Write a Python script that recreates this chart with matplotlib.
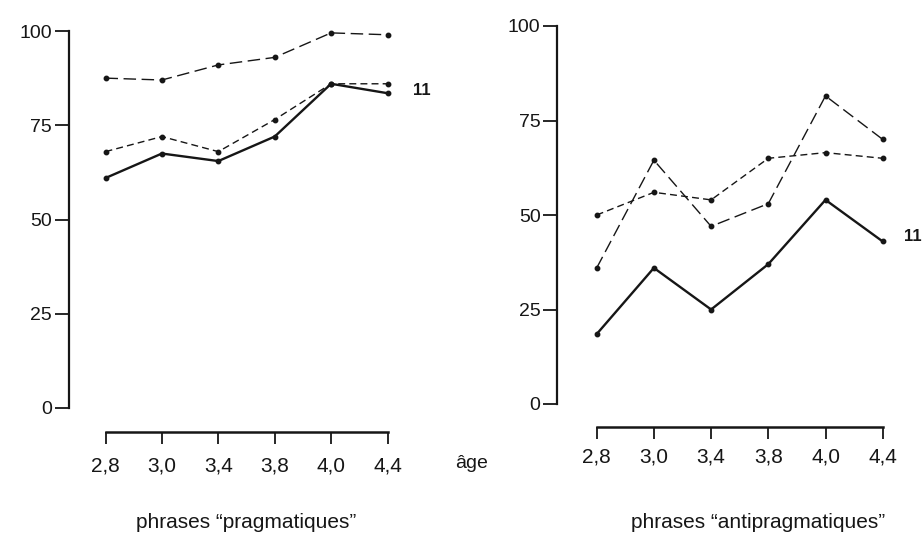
import matplotlib
matplotlib.use("Agg")
import matplotlib.pyplot as plt

ages = ["2,8", "3,0", "3,4", "3,8", "4,0", "4,4"]
yticks = [0, 25, 50, 75, 100]

# phrases "pragmatiques"
prag_long = [87.5, 87, 91, 93, 99.5, 99]
prag_short = [68, 72, 68, 76.5, 86, 86]
prag_solid = [61, 67.5, 65.5, 72, 86, 83.5]

# phrases "antipragmatiques"
anti_long = [36, 64.5, 47, 53, 81.5, 70]
anti_short = [50, 56, 54, 65, 66.5, 65]
anti_solid = [18.5, 36, 25, 37, 54, 43]

W, H = 922, 545
ink = "#161616"
font = ["Liberation Sans", "DejaVu Sans"]

fig = plt.figure(figsize=(W / 100, H / 100), dpi=100)
fig.patch.set_facecolor("white")


def make_axes(x0, dx, y0, dy, xlim, ylim):
    # x0/dx: pixel of first age and pixels per step; y0/dy: pixel of 0 and pixels per unit
    left = x0 + dx * xlim[0]
    right = x0 + dx * xlim[1]
    bottom = y0 - dy * ylim[0]
    top = y0 - dy * ylim[1]
    ax = fig.add_axes([left / W, 1 - bottom / H, (right - left) / W, (bottom - top) / H])
    ax.set_xlim(*xlim)
    ax.set_ylim(*ylim)
    return ax


def draw_panel(ax, long_, short_, solid_, yaxis_x, xaxis_y, lab_xy, xpad):
    x = list(range(len(ages)))
    ax.plot(x, long_, color=ink, lw=1.0, dashes=(9, 4), marker="o", ms=3.2)
    ax.plot(x, short_, color=ink, lw=1.0, dashes=(5, 3), marker="o", ms=3.2)
    ax.plot(x, solid_, color=ink, lw=1.7, marker="o", ms=3.2)
    ax.text(lab_xy[0], lab_xy[1], "11", fontsize=12, fontweight="bold",
            family=font, color=ink, ha="center", va="center")

    ax.patch.set_alpha(0)
    ax.spines["top"].set_visible(False)
    ax.spines["right"].set_visible(False)
    ax.spines["left"].set_position(("data", yaxis_x))
    ax.spines["left"].set_bounds(0, 100)
    ax.spines["left"].set_linewidth(1.6)
    ax.spines["left"].set_color(ink)
    ax.spines["bottom"].set_position(("data", xaxis_y))
    ax.spines["bottom"].set_bounds(0, len(ages) - 1)
    ax.spines["bottom"].set_linewidth(1.8)
    ax.spines["bottom"].set_color(ink)

    ax.set_yticks(yticks)
    ax.set_yticklabels([str(v) for v in yticks], family=font, fontsize=14)
    ax.set_xticks(x)
    ax.set_xticklabels(ages, family=font, fontsize=15)
    ax.tick_params(axis="y", length=10, width=1.3, pad=2, colors=ink)
    ax.tick_params(axis="x", length=8.5, width=1.3, pad=xpad, colors=ink)


ax1 = make_axes(105.5, 56.4, 408, 3.77, (-0.8, 5.3), (-10, 102))
draw_panel(ax1, prag_long, prag_short, prag_solid, -0.65, -6.4, (5.61, 84.3), 9)

ax2 = make_axes(596.7, 57.2, 404, 3.78, (-0.8, 5.6), (-10, 102))
draw_panel(ax2, anti_long, anti_short, anti_solid, -0.69, -6.1, (5.53, 44.2), 6)

fig.text(472 / W, 1 - 463 / H, "âge", family=font, fontsize=14,
         color=ink, ha="center", va="center")
fig.text(246 / W, 1 - 523 / H, "phrases \u201cpragmatiques\u201d", family=font,
         fontsize=15, color=ink, ha="center", va="center")
fig.text(758 / W, 1 - 523 / H, "phrases \u201cantipragmatiques\u201d", family=font,
         fontsize=15, color=ink, ha="center", va="center")

fig.savefig("out.png", dpi=100)
